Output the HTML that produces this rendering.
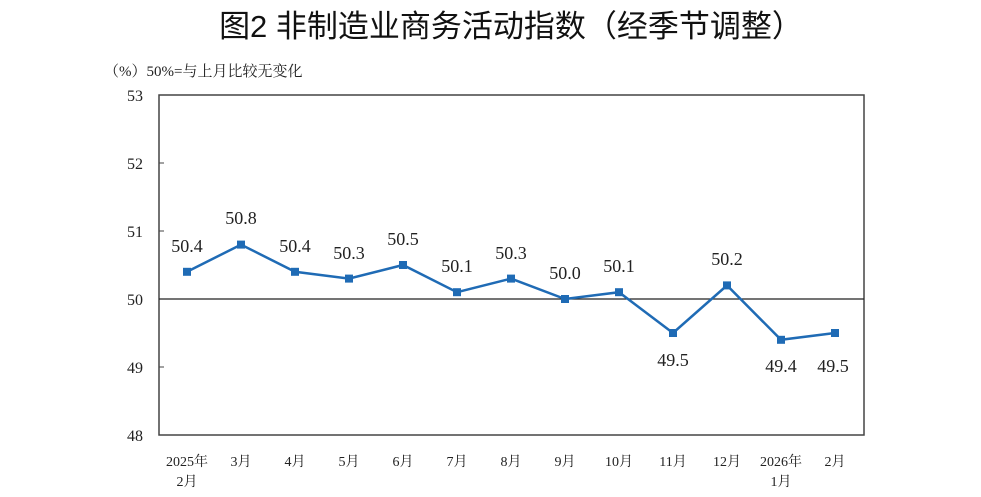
<!DOCTYPE html>
<html><head><meta charset="utf-8"><style>
body{margin:0;background:#fff;}
svg{display:block;font-family:"Liberation Serif","Noto Serif CJK SC",serif;}
</style></head><body>
<svg width="981" height="497" viewBox="0 0 981 497">
<text x="511" y="37" text-anchor="middle" font-size="31" font-family="Liberation Sans,Noto Sans CJK SC,sans-serif" fill="#111">图2  非制造业商务活动指数（经季节调整）</text>
<text x="104" y="76" font-size="15" fill="#222">（%）50%=与上月比较无变化</text>
<rect x="159" y="95" width="705" height="340" fill="none" stroke="#444" stroke-width="1.5"/>
<line x1="159" y1="299" x2="864" y2="299" stroke="#222" stroke-width="1.3"/>
<g stroke="#444" stroke-width="1">
<line x1="159" y1="163" x2="164" y2="163"/><line x1="159" y1="231" x2="164" y2="231"/><line x1="159" y1="367" x2="164" y2="367"/>
</g>
<g font-size="16" fill="#222" text-anchor="end">
<text x="143" y="101">53</text><text x="143" y="169">52</text><text x="143" y="237">51</text><text x="143" y="305">50</text><text x="143" y="373">49</text><text x="143" y="441">48</text>
</g>
<polyline fill="none" stroke="#1f6bb5" stroke-width="2.5" points="187,271.8 241,244.6 295,271.8 349,278.6 403,265 457,292.2 511,278.6 565,299 619,292.2 673,333 727,285.4 781,339.8 835,333"/>
<g fill="#1f6bb5">
<rect x="183" y="267.8" width="8" height="8"/><rect x="237" y="240.6" width="8" height="8"/><rect x="291" y="267.8" width="8" height="8"/><rect x="345" y="274.6" width="8" height="8"/><rect x="399" y="261" width="8" height="8"/><rect x="453" y="288.2" width="8" height="8"/><rect x="507" y="274.6" width="8" height="8"/><rect x="561" y="295" width="8" height="8"/><rect x="615" y="288.2" width="8" height="8"/><rect x="669" y="329" width="8" height="8"/><rect x="723" y="281.4" width="8" height="8"/><rect x="777" y="335.8" width="8" height="8"/><rect x="831" y="329" width="8" height="8"/>
</g>
<g font-size="18" fill="#222" text-anchor="middle">
<text x="187" y="252">50.4</text><text x="241" y="224">50.8</text><text x="295" y="252">50.4</text><text x="349" y="259">50.3</text><text x="403" y="245">50.5</text><text x="457" y="272">50.1</text><text x="511" y="259">50.3</text><text x="565" y="279">50.0</text><text x="619" y="272">50.1</text><text x="673" y="366">49.5</text><text x="727" y="265">50.2</text><text x="781" y="372">49.4</text><text x="833" y="372">49.5</text>
</g>
<g font-size="14" fill="#222" text-anchor="middle">
<text x="187" y="466">2025年</text><text x="187" y="486">2月</text>
<text x="241" y="466">3月</text><text x="295" y="466">4月</text><text x="349" y="466">5月</text><text x="403" y="466">6月</text><text x="457" y="466">7月</text><text x="511" y="466">8月</text><text x="565" y="466">9月</text><text x="619" y="466">10月</text><text x="673" y="466">11月</text><text x="727" y="466">12月</text>
<text x="781" y="466">2026年</text><text x="781" y="486">1月</text><text x="835" y="466">2月</text>
</g>
</svg>
</body></html>
